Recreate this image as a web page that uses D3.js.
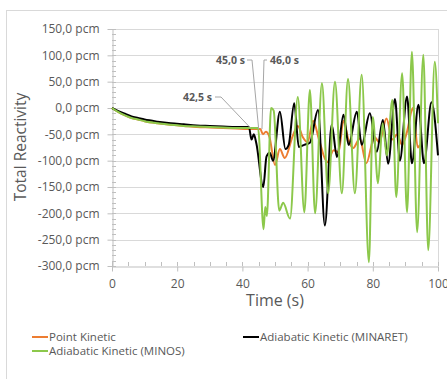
<!DOCTYPE html>
<html>
<head>
<meta charset="utf-8">
<script src="https://cdn.jsdelivr.net/npm/d3@7"></script>
<style>
  body { margin: 0; background: #fff; }
  svg { display: block; font-family: "Open Sans", sans-serif; }
</style>
</head>
<body>
<div id="chart"></div>
<script>
// time (s), reactivity (pcm) pairs
var pointKinetic = [
  [0, 0], [2, -8], [4, -14], [6, -19], [8, -22], [10, -25], [14, -29], [18, -32], [22, -34],
  [26, -36], [30, -37], [34, -38], [38, -39], [42, -40], [45.5, -40], [46.3, -50], [47.2, -45],
  [48.3, -55], [50, -108], [51.5, -78], [53, -95], [55.5, -52], [57, -34], [58.5, -55], [60, -65],
  [61.7, -24], [63.5, -60], [66, -103], [68, -80], [69.5, -84], [71, -24], [72.5, -60], [74, -76],
  [76, -58], [78, -105], [80.5, -55], [82, -65], [84.2, -20], [86, -60], [87.5, -50], [89, -70],
  [90.5, -45], [92.3, 0], [93.8, -75], [94.5, -70]
];

var minaret = [
  [0, 0], [2, -6], [4, -11], [6, -16], [8, -19], [10, -22], [14, -26], [18, -29], [22, -31],
  [26, -33], [30, -34], [34, -35], [38, -36], [42, -36], [42.8, -60], [43.5, -50], [44.3, -68],
  [46.4, -150], [47.4, -92], [48.4, -85], [49.4, -100], [51.5, -7], [53.2, -78], [54.2, -70],
  [55.9, 9], [57.3, -74], [59, -70], [60.7, -66], [63.2, -4], [65.3, -223], [67.4, -32],
  [69, -93], [71, -13], [72.6, -70], [75.1, -7], [76.6, -70], [79.1, -10], [81.2, -83],
  [83.1, -23], [84.7, -106], [86.8, 17], [88.3, -100], [90.5, 22], [92, -105], [94, 6],
  [95.7, -105], [98, 11], [100, -90]
];

var minos = [
  [0, 0], [2, -8], [4, -14], [6, -19], [8, -22], [10, -25], [14, -29], [18, -32], [22, -34],
  [26, -35], [30, -36], [34, -37], [38, -38], [42, -38], [44.8, -38], [46.5, -230], [47, -188],
  [47.5, -205], [48.8, 0], [49.6, -5], [51.3, -195], [52.5, -180], [54.6, -210], [57, 21],
  [59, -198], [60.7, 34], [62.3, -200], [64.4, 47], [66.3, -162], [68.4, 50], [70.5, -162],
  [72.4, 55], [74.5, -162], [76.6, 63], [78.8, -293], [80, -17], [81.6, -143], [83, -29],
  [84.3, -90], [86, 15], [87.2, -169], [89, 66], [90.5, -198], [92, 107], [93.6, -236],
  [95.5, 101], [97, -270], [99, 88], [100, -29]
];

var seriesNames = ["Point Kinetic", "Adiabatic Kinetic (MINARET)", "Adiabatic Kinetic (MINOS)"];
var seriesColors = ["#ED7D31", "#000000", "#8CC84B"];
var yTicks = [150, 100, 50, 0, -50, -100, -150, -200, -250, -300];
var xTicks = [0, 20, 40, 60, 80, 100];
var notes = [
  { label: "42,5 s", t: 42.5, v: -38 },
  { label: "45,0 s", t: 45.0, v: -40 },
  { label: "46,0 s", t: 46.0, v: -40 }
];

var width = 447, height = 379;
var grey = "#595959";

var svg = d3.select("#chart").append("svg")
    .attr("width", width)
    .attr("height", height);

// chart frame
svg.append("rect")
    .attr("x", 6.5).attr("y", 10.5)
    .attr("width", 446).attr("height", 380)
    .attr("fill", "#fff")
    .attr("stroke", "#d9d9d9");

var x = d3.scaleLinear().domain([0, 100]).range([112, 438]);
var y = d3.scaleLinear().domain([-300, 150]).range([266, 29]);

var fmt = function (d) { return d3.format(".1f")(d).replace(".", ",").replace("−", "-") + " pcm"; };

// grid
svg.append("g")
    .selectAll("line")
    .data(yTicks.filter(function (d) { return d !== -300; }))
    .join("line")
    .attr("x1", x(0)).attr("x2", x(100))
    .attr("y1", function (d) { return Math.round(y(d)) + 0.5; })
    .attr("y2", function (d) { return Math.round(y(d)) + 0.5; })
    .attr("stroke", "#d9d9d9");

svg.append("line")
    .attr("x1", Math.round(x(100)) + 0.5).attr("x2", Math.round(x(100)) + 0.5)
    .attr("y1", y(150)).attr("y2", y(-300))
    .attr("stroke", "#d9d9d9");

// minor ticks (inside)
var axisColor = "#bfbfbf";
svg.append("g")
    .selectAll("line")
    .data(d3.range(-300, 151, 10))
    .join("line")
    .attr("x1", x(0)).attr("x2", x(0) + 4)
    .attr("y1", function (d) { return Math.round(y(d)) + 0.5; })
    .attr("y2", function (d) { return Math.round(y(d)) + 0.5; })
    .attr("stroke", axisColor);

svg.append("g")
    .selectAll("line")
    .data(d3.range(0, 101, 5))
    .join("line")
    .attr("x1", function (d) { return Math.round(x(d)) + 0.5; })
    .attr("x2", function (d) { return Math.round(x(d)) + 0.5; })
    .attr("y1", y(-300)).attr("y2", y(-300) - 4)
    .attr("stroke", axisColor);

// y axis
var yAxis = svg.append("g")
    .attr("transform", "translate(" + (Math.round(x(0)) + 0.5) + ",0)")
    .call(d3.axisLeft(y).tickValues(yTicks).tickFormat(fmt).tickSize(5).tickSizeOuter(0).tickPadding(8));
yAxis.select(".domain").attr("stroke", axisColor);
yAxis.selectAll(".tick line").attr("stroke", axisColor);
yAxis.selectAll("text").attr("fill", grey).style("font-size", "12px").style("font-family", "Open Sans");

// x axis
var xAxis = svg.append("g")
    .attr("transform", "translate(0," + (Math.round(y(-300)) + 0.5) + ")")
    .call(d3.axisBottom(x).tickValues(xTicks).tickSize(5).tickSizeOuter(0).tickPadding(8));
xAxis.select(".domain").attr("stroke", axisColor);
xAxis.selectAll(".tick line").attr("stroke", axisColor);
xAxis.selectAll("text").attr("fill", grey).style("font-size", "12px").style("font-family", "Open Sans");

// titles
svg.append("text")
    .attr("transform", "translate(26,147) rotate(-90)")
    .attr("text-anchor", "middle")
    .attr("fill", grey)
    .style("font-size", "15.5px")
    .text("Total Reactivity");

svg.append("text")
    .attr("x", 275).attr("y", 306)
    .attr("text-anchor", "middle")
    .attr("fill", grey)
    .style("font-size", "16px")
    .text("Time (s)");

// series
var line = d3.line()
    .x(function (d) { return x(d[0]); })
    .y(function (d) { return y(d[1]); })
    .curve(d3.curveMonotoneX);

var allSeries = [pointKinetic, minaret, minos];
svg.append("g")
    .selectAll("path")
    .data(allSeries)
    .join("path")
    .attr("d", line)
    .attr("fill", "none")
    .attr("stroke", function (d, i) { return seriesColors[i]; })
    .attr("stroke-width", 2)
    .attr("stroke-linejoin", "round");

// annotations
var noteLayout = [
  { tx: 212, ty: 101, path: [[215, 97], [221, 97]], anchor: "end" },
  { tx: 245, ty: 64, path: [[247, 60], [252, 60]], anchor: "end" },
  { tx: 270, ty: 64, path: [[267, 60], [264, 60]], anchor: "start" }
];
notes.forEach(function (n, i) {
  var L = noteLayout[i];
  var pts = L.path.concat([[x(n.t), y(n.v)]]);
  svg.append("path")
      .attr("d", d3.line()(pts))
      .attr("fill", "none")
      .attr("stroke", "#a6a6a6")
      .attr("stroke-width", 1);
  svg.append("text")
      .attr("x", L.tx).attr("y", L.ty)
      .attr("text-anchor", L.anchor)
      .attr("fill", grey)
      .style("font-size", "10.5px")
      .style("font-weight", "bold")
      .text(n.label);
});

// legend
var legendPos = [[32, 341], [243, 341], [32, 355]];
var lg = svg.append("g")
    .selectAll("g")
    .data(seriesNames)
    .join("g")
    .attr("transform", function (d, i) { return "translate(" + legendPos[i][0] + "," + legendPos[i][1] + ")"; });
lg.append("line")
    .attr("x1", 0).attr("x2", 16)
    .attr("y1", -4).attr("y2", -4)
    .attr("stroke", function (d, i) { return seriesColors[i]; })
    .attr("stroke-width", 2);
lg.append("text")
    .attr("x", 17).attr("y", 0)
    .attr("fill", grey)
    .style("font-size", "11.5px")
    .text(function (d) { return d; });
</script>
</body>
</html>
